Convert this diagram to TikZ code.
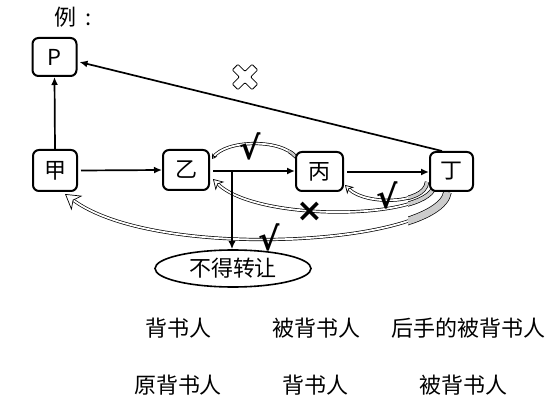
\documentclass[tikz,border=0pt]{standalone}
\usepackage{fontspec}
\setmainfont{Noto Sans CJK SC}
\newfontfamily\symfont{DejaVu Sans}
\usetikzlibrary{arrows.meta,calc,shapes.geometric}
\pgfdeclarelayer{bg}
\pgfsetlayers{bg,main}
\begin{document}
\begin{tikzpicture}[x=1pt,y=-1pt,
  box/.style={draw, line width=2pt, rounded corners=6pt, fill=white,
    minimum width=44pt, minimum height=40pt, inner sep=0pt,
    font=\fontsize{22}{24}\selectfont},
  arr/.style={line width=1.7pt, -{Latex[length=8pt,width=7pt]}},
  lbl/.style={font=\fontsize{22}{24}\selectfont, inner sep=0pt},
  chk/.style={font=\symfont\bfseries\fontsize{32}{34}\selectfont, inner sep=0pt},
  band/.style={line width=0.7pt, double=white, double distance=1.8pt},
  gband/.style={line width=0.7pt, double=gray!40, double distance=#1},
  hhead/.style={line width=0.7pt, -{Stealth[fill=white,length=#1,width=1.2*#1,inset=0.3*#1]}}
]
\useasboundingbox (0,0) rectangle (558,404);

% title
\node[lbl, anchor=west] (title) at (54,17) {例\hspace{9pt}:};

% boxes
\node[box, minimum height=38pt] (p) at (54.5,57) {P};
\node[box, minimum height=41pt] (jia) at (55,170.5) {甲};
\node[box, minimum width=46pt] (yi) at (186,170) {乙};
\node[box, minimum width=47pt, minimum height=39pt] (bing) at (319.5,171.5) {丙};
\node[box, minimum width=43pt, minimum height=39pt] (ding) at (451.5,171.5) {丁};

% ellipse
\node[draw, ellipse, line width=1.6pt, minimum width=156pt, minimum height=37pt,
  inner sep=0pt, font=\fontsize{22}{24}\selectfont] (ell) at (233,268.5) {不得转让};

% straight arrows
\draw[arr] (jia.north) -- (p.south);
\draw[arr] (jia.east) ++(3,0) coordinate (j1) (j1) -- (yi.west);
\draw[arr] ($(yi.east)+(3,1)$) coordinate (y1) -- (y1 -| bing.west);
\draw[arr] ($(bing.east)+(3,0.5)$) coordinate (b1) -- (b1 -| ding.west);
\coordinate (tj) at (232,171);
\draw[arr] (tj) -- (tj |- ell.north);
\coordinate (dn) at ($(ding.north west)+(13,0)$);
\draw[arr] (dn) -- ($(p.east)+(2,5)$);

% hollow cross
\node[inner sep=0pt] (xx) at (245,77) {};
\draw[line width=0.8pt, fill=white, rotate around={45:(xx)}, rounded corners=1pt]
  ($(xx)+(-4,-14)$) -- ($(xx)+(4,-14)$) -- ($(xx)+(4,-4)$) -- ($(xx)+(14,-4)$)
  -- ($(xx)+(14,4)$) -- ($(xx)+(4,4)$) -- ($(xx)+(4,14)$) -- ($(xx)+(-4,14)$)
  -- ($(xx)+(-4,4)$) -- ($(xx)+(-14,4)$) -- ($(xx)+(-14,-4)$) -- ($(xx)+(-4,-4)$) -- cycle;

% curved bands
\coordinate (As) at ($(bing.north west)+(1,6)$);
\coordinate (Ae) at ($(yi.north east)+(2,10)$);
\coordinate (Bs) at ($(ding.south west)+(-2,-10)$);
\coordinate (Be) at ($(bing.south east)+(1,-7)$);
\coordinate (Cs) at ($(ding.south west)+(5,-5)$);
\coordinate (Ce) at ($(yi.south east)+(3,-12)$);
\coordinate (Ds) at ($(ding.south)+(-4,0)$);
\coordinate (De) at ($(jia.south)+(10,2)$);

\begin{pgfonlayer}{bg}
  \draw[band, shorten >=2pt] (As) .. controls (280,138) and (225,140) .. (Ae);
  \draw[hhead=5pt] ($(Ae)!1pt!(225,140)$) -- (Ae);
  \begin{scope}
    \clip ($(As)+(-8,-6)$) rectangle ($(As)+(4,6)$);
    \draw[gband=2.4pt] (As) .. controls (280,138) and (225,140) .. (Ae);
  \end{scope}

  \draw[band, shorten >=6pt] (Bs) .. controls (425,205) and (365,205) .. (Be);
  \draw[hhead=8pt] ($(Be)!1pt!(365,205)$) -- (Be);

  \draw[band, shorten >=6pt] (Cs) .. controls (425,220) and (255,222) .. (Ce);
  \draw[hhead=10pt] ($(Ce)!1pt!(255,222)$) -- (Ce);

  \draw[band, shorten >=9pt] (Ds) .. controls (440,245) and (155,262) .. (De);
  \draw[hhead=15pt] ($(De)!1pt!(155,262)$) -- (De);

  \begin{scope}
    \clip (408,180) rectangle (480,240);
    \draw[gband=3pt] (Bs) .. controls (425,205) and (365,205) .. (Be);
    \draw[gband=3.6pt] (Cs) .. controls (425,220) and (255,222) .. (Ce);
    \draw[gband=7pt] (Ds) .. controls (440,245) and (155,262) .. (De);
  \end{scope}
\end{pgfonlayer}

% marks
\node[chk] (c1) at (250,146) {√};
\node[chk] (c2) at (387,195) {√};
\node[chk] (c3) at (269,237) {√};
\node[chk] (x1) at (310,212) {×};

% labels
\node[lbl] (l1) at (178,328) {背书人};
\node[lbl] (l2) at (316,328) {被背书人};
\node[lbl] (l3) at (468,328) {后手的被背书人};
\node[lbl] (l4) at (178,385) {原背书人};
\node[lbl] (l5) at (315,385) {背书人};
\node[lbl] (l6) at (463,385) {被背书人};
\end{tikzpicture}
\end{document}
